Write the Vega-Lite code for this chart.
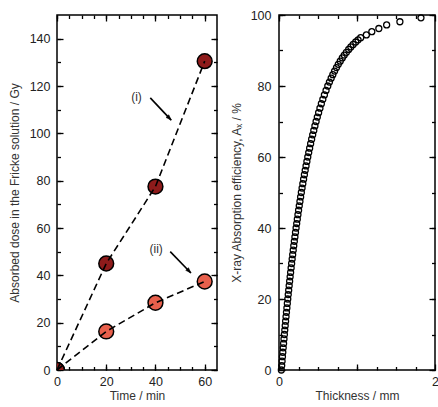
{
  "$schema": "https://vega.github.io/schema/vega-lite/v6.json",
  "padding": {"left": 7, "top": 8, "right": 0, "bottom": 0},
  "spacing": 10,
  "config": {
    "font": "Liberation Sans",
    "view": {"stroke": "black", "strokeWidth": 1.5},
    "axis": {
      "domain": false,
      "grid": false,
      "labelFontSize": 12.5,
      "labelColor": "#222",
      "titleFontSize": 12,
      "titleFontWeight": "normal",
      "titleColor": "#333",
      "tickColor": "black",
      "tickWidth": 1.3
    }
  },
  "hconcat": [
    {
      "width": 160,
      "height": 355,
      "data": {"values": [
        {"series": "ii", "time": 0, "dose": 0},
        {"series": "ii", "time": 20, "dose": 16.3},
        {"series": "ii", "time": 40, "dose": 28.4},
        {"series": "ii", "time": 60, "dose": 37.4},
        {"series": "i", "time": 0, "dose": 0},
        {"series": "i", "time": 20, "dose": 45},
        {"series": "i", "time": 40, "dose": 77.5},
        {"series": "i", "time": 60, "dose": 130.5}
      ]},
      "layer": [
        {
          "mark": {"type": "point", "filled": true, "size": 220, "stroke": "black", "strokeWidth": 1.5, "opacity": 1, "clip": true},
          "encoding": {
            "x": {"field": "time", "type": "quantitative", "scale": {"domain": [0, 65], "nice": false, "zero": false},
              "axis": {"title": "Time / min", "orient": "bottom", "values": [0, 20, 40, 60], "labelFlush": false, "ticks": false, "tickSize": 0, "labelPadding": 5, "titlePadding": 3}},
            "y": {"field": "dose", "type": "quantitative", "scale": {"domain": [0, 150], "nice": false},
              "axis": {"title": "Absorbed dose in the Fricke solution / Gy", "orient": "left", "values": [0, 20, 40, 60, 80, 100, 120, 140], "ticks": false, "tickSize": 0, "labelPadding": 7, "titlePadding": 8}},
            "fill": {"field": "series", "type": "nominal", "scale": {"domain": ["i", "ii"], "range": ["#8e1b1b", "#e8604c"]}, "legend": null}
          }
        },
        {
          "mark": {"type": "line", "color": "black", "strokeDash": [7, 4], "strokeWidth": 1.6},
          "encoding": {
            "x": {"field": "time", "type": "quantitative", "axis": null},
            "y": {"field": "dose", "type": "quantitative", "axis": null},
            "detail": {"field": "series"}
          }
        },
        {
          "data": {"values": [
            {"x": 37.9, "y": 115, "x2": 46.4, "y2": 105.6},
            {"x": 46, "y": 50, "x2": 54.4, "y2": 41}
          ]},
          "mark": {"type": "rule", "color": "black", "strokeWidth": 1.6},
          "encoding": {
            "x": {"field": "x", "type": "quantitative", "axis": null},
            "y": {"field": "y", "type": "quantitative", "axis": null},
            "x2": {"field": "x2"},
            "y2": {"field": "y2"}
          }
        },
        {
          "data": {"values": [
            {"x": 46.4, "y": 105.6},
            {"x": 54.4, "y": 41}
          ]},
          "mark": {"type": "point", "shape": "M0,0 L-2,-0.7 L-2,0.7 Z", "filled": true, "fill": "black", "stroke": "black", "strokeWidth": 0.5, "size": 30, "angle": 46, "opacity": 1},
          "encoding": {
            "x": {"field": "x", "type": "quantitative", "axis": null},
            "y": {"field": "y", "type": "quantitative", "axis": null}
          }
        },
        {
          "data": {"values": [
            {"x": 32.3, "y": 115.5, "label": "(i)"},
            {"x": 40.3, "y": 51, "label": "(ii)"}
          ]},
          "mark": {"type": "text", "fontSize": 12, "color": "#333"},
          "encoding": {
            "x": {"field": "x", "type": "quantitative", "axis": null},
            "y": {"field": "y", "type": "quantitative", "axis": null},
            "text": {"field": "label"}
          }
        },
        {
          "mark": {"type": "point", "opacity": 0},
          "encoding": {
            "x": {"field": "time", "type": "quantitative",
              "axis": {"title": null, "orient": "bottom", "values": [0, 20, 40, 60], "labels": false, "tickSize": 6, "offset": -6}},
            "y": {"field": "dose", "type": "quantitative",
              "axis": {"title": null, "orient": "left", "values": [0, 20, 40, 60, 80, 100, 120, 140], "labels": false, "tickSize": 6, "offset": -6}}
          }
        },
        {
          "mark": {"type": "point", "opacity": 0},
          "encoding": {
            "x": {"field": "time", "type": "quantitative",
              "axis": {"title": null, "orient": "bottom", "values": [0, 5, 10, 15, 20, 25, 30, 35, 40, 45, 50, 55, 60], "labels": false, "tickSize": 3.5, "offset": -3.5}},
            "y": {"field": "dose", "type": "quantitative",
              "axis": {"title": null, "orient": "left", "values": [0, 10, 20, 30, 40, 50, 60, 70, 80, 90, 100, 110, 120, 130, 140], "labels": false, "tickSize": 3.5, "offset": -3.5}}
          }
        },
        {
          "mark": {"type": "point", "opacity": 0},
          "encoding": {
            "x": {"field": "time", "type": "quantitative",
              "axis": {"title": null, "orient": "top", "values": [0, 20, 40, 60], "labels": false, "tickSize": 6, "offset": -6}},
            "y": {"field": "dose", "type": "quantitative",
              "axis": {"title": null, "orient": "right", "values": [0, 20, 40, 60, 80, 100, 120, 140], "labels": false, "tickSize": 6, "offset": -6}}
          }
        },
        {
          "mark": {"type": "point", "opacity": 0},
          "encoding": {
            "x": {"field": "time", "type": "quantitative",
              "axis": {"title": null, "orient": "top", "values": [0, 5, 10, 15, 20, 25, 30, 35, 40, 45, 50, 55, 60], "labels": false, "tickSize": 3.5, "offset": -3.5}},
            "y": {"field": "dose", "type": "quantitative",
              "axis": {"title": null, "orient": "right", "values": [0, 10, 20, 30, 40, 50, 60, 70, 80, 90, 100, 110, 120, 130, 140], "labels": false, "tickSize": 3.5, "offset": -3.5}}
          }
        }
      ],
      "resolve": {"axis": {"x": "independent", "y": "independent"}}
    },
    {
      "width": 156,
      "height": 355,
      "data": {"values": [
        {"t": 0.030, "a": 0}, {"t": 0.0347, "a": 1.25}, {"t": 0.0394, "a": 2.5}, {"t": 0.0441, "a": 3.75},
        {"t": 0.0490, "a": 5}, {"t": 0.0539, "a": 6.25}, {"t": 0.0588, "a": 7.5}, {"t": 0.0639, "a": 8.75},
        {"t": 0.0690, "a": 10}, {"t": 0.0742, "a": 11.25}, {"t": 0.0794, "a": 12.5}, {"t": 0.0847, "a": 13.75},
        {"t": 0.0901, "a": 15}, {"t": 0.0956, "a": 16.25}, {"t": 0.1012, "a": 17.5}, {"t": 0.1068, "a": 18.75},
        {"t": 0.1126, "a": 20}, {"t": 0.1184, "a": 21.25}, {"t": 0.1243, "a": 22.5}, {"t": 0.1303, "a": 23.75},
        {"t": 0.1364, "a": 25}, {"t": 0.1427, "a": 26.25}, {"t": 0.1490, "a": 27.5}, {"t": 0.1554, "a": 28.75},
        {"t": 0.1620, "a": 30}, {"t": 0.1686, "a": 31.25}, {"t": 0.1754, "a": 32.5}, {"t": 0.1823, "a": 33.75},
        {"t": 0.1894, "a": 35}, {"t": 0.1966, "a": 36.25}, {"t": 0.2039, "a": 37.5}, {"t": 0.2114, "a": 38.75},
        {"t": 0.2190, "a": 40}, {"t": 0.2268, "a": 41.25}, {"t": 0.2348, "a": 42.5}, {"t": 0.2429, "a": 43.75},
        {"t": 0.2512, "a": 45}, {"t": 0.2597, "a": 46.25}, {"t": 0.2684, "a": 47.5}, {"t": 0.2773, "a": 48.75},
        {"t": 0.2865, "a": 50}, {"t": 0.2958, "a": 51.25}, {"t": 0.3054, "a": 52.5}, {"t": 0.3153, "a": 53.75},
        {"t": 0.3255, "a": 55}, {"t": 0.3359, "a": 56.25}, {"t": 0.3466, "a": 57.5}, {"t": 0.3576, "a": 58.75},
        {"t": 0.3690, "a": 60}, {"t": 0.3808, "a": 61.25}, {"t": 0.3929, "a": 62.5}, {"t": 0.4055, "a": 63.75},
        {"t": 0.4184, "a": 65}, {"t": 0.4319, "a": 66.25}, {"t": 0.4459, "a": 67.5}, {"t": 0.4604, "a": 68.75},
        {"t": 0.4755, "a": 70}, {"t": 0.4912, "a": 71.25}, {"t": 0.5077, "a": 72.5}, {"t": 0.5249, "a": 73.75},
        {"t": 0.5429, "a": 75}, {"t": 0.5619, "a": 76.25}, {"t": 0.5819, "a": 77.5}, {"t": 0.6031, "a": 78.75},
        {"t": 0.6255, "a": 80}, {"t": 0.6464, "a": 81.1}, {"t": 0.6686, "a": 82.2}, {"t": 0.6900, "a": 83.2},
        {"t": 0.7127, "a": 84.2}, {"t": 0.7369, "a": 85.2}, {"t": 0.7601, "a": 86.1}, {"t": 0.7849, "a": 87.0},
        {"t": 0.8114, "a": 87.9}, {"t": 0.8367, "a": 88.7}, {"t": 0.8639, "a": 89.5}, {"t": 0.8932, "a": 90.3},
        {"t": 0.9209, "a": 91.0}, {"t": 0.9509, "a": 91.7}, {"t": 0.9835, "a": 92.4}, {"t": 1.0139, "a": 93.0},
        {"t": 1.0471, "a": 93.6}, {"t": 1.12, "a": 94.4}, {"t": 1.19, "a": 95.3}, {"t": 1.28, "a": 96.2},
        {"t": 1.38, "a": 97.2}, {"t": 1.55, "a": 98.1}, {"t": 1.82, "a": 99.2}
      ]},
      "layer": [
        {
          "mark": {"type": "point", "filled": false, "size": 36, "stroke": "black", "strokeWidth": 1.3, "opacity": 1},
          "encoding": {
            "x": {"field": "t", "type": "quantitative", "scale": {"domain": [0, 2], "nice": false},
              "axis": {"title": "Thickness / mm", "orient": "bottom", "values": [0, 1, 2], "format": "d", "labelFlush": false, "ticks": false, "tickSize": 0, "labelPadding": 5, "titlePadding": 3}},
            "y": {"field": "a", "type": "quantitative", "scale": {"domain": [0, 100], "nice": false},
              "axis": {"title": "X-ray Absorption efficiency, Aₓ / %", "orient": "left", "values": [0, 20, 40, 60, 80, 100], "ticks": false, "tickSize": 0, "labelPadding": 8, "titlePadding": 7}}
          }
        },
        {
          "mark": {"type": "point", "opacity": 0},
          "encoding": {
            "x": {"field": "t", "type": "quantitative",
              "axis": {"title": null, "orient": "bottom", "values": [0, 1, 2], "labels": false, "tickSize": 6, "offset": -6}},
            "y": {"field": "a", "type": "quantitative",
              "axis": {"title": null, "orient": "left", "values": [0, 20, 40, 60, 80, 100], "labels": false, "tickSize": 6, "offset": -6}}
          }
        },
        {
          "mark": {"type": "point", "opacity": 0},
          "encoding": {
            "x": {"field": "t", "type": "quantitative",
              "axis": {"title": null, "orient": "bottom", "values": [0, 0.25, 0.5, 0.75, 1, 1.25, 1.5, 1.75], "labels": false, "tickSize": 3.5, "offset": -3.5}},
            "y": {"field": "a", "type": "quantitative",
              "axis": {"title": null, "orient": "left", "values": [0, 10, 20, 30, 40, 50, 60, 70, 80, 90, 100], "labels": false, "tickSize": 3.5, "offset": -3.5}}
          }
        },
        {
          "mark": {"type": "point", "opacity": 0},
          "encoding": {
            "x": {"field": "t", "type": "quantitative",
              "axis": {"title": null, "orient": "top", "values": [0, 1, 2], "labels": false, "tickSize": 6, "offset": -6}},
            "y": {"field": "a", "type": "quantitative",
              "axis": {"title": null, "orient": "right", "values": [0, 20, 40, 60, 80, 100], "labels": false, "tickSize": 6, "offset": -6}}
          }
        },
        {
          "mark": {"type": "point", "opacity": 0},
          "encoding": {
            "x": {"field": "t", "type": "quantitative",
              "axis": {"title": null, "orient": "top", "values": [0, 0.25, 0.5, 0.75, 1, 1.25, 1.5, 1.75], "labels": false, "tickSize": 3.5, "offset": -3.5}},
            "y": {"field": "a", "type": "quantitative",
              "axis": {"title": null, "orient": "right", "values": [0, 10, 20, 30, 40, 50, 60, 70, 80, 90, 100], "labels": false, "tickSize": 3.5, "offset": -3.5}}
          }
        }
      ],
      "resolve": {"axis": {"x": "independent", "y": "independent"}}
    }
  ]
}
